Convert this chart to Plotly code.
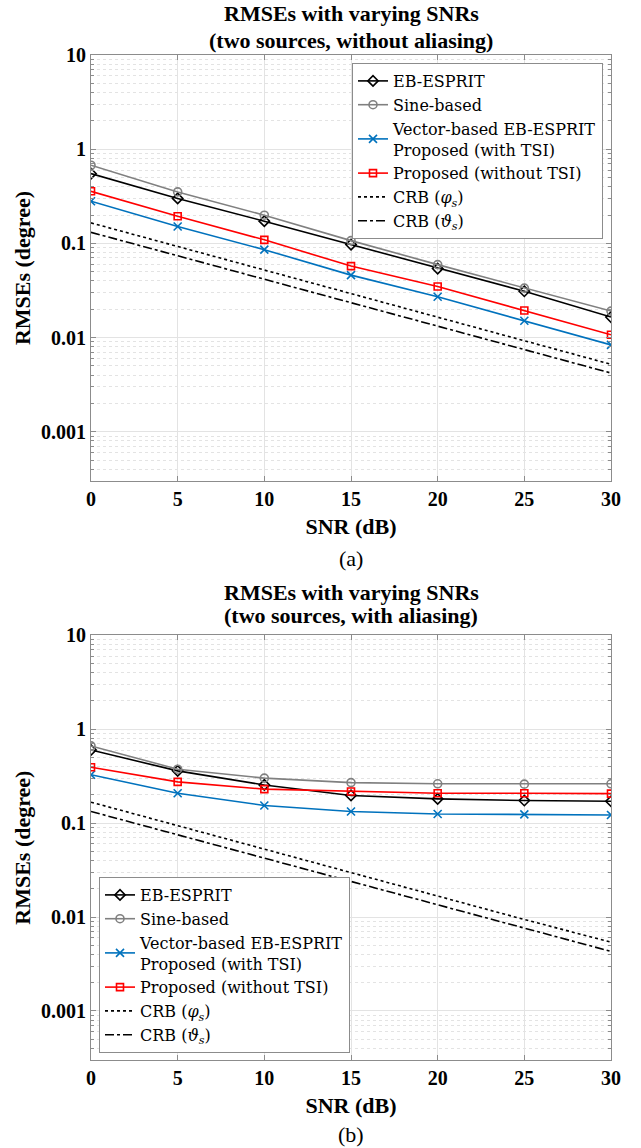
import plotly.graph_objects as go

snr = [0, 5, 10, 15, 20, 25, 30]

# (a) two sources, without aliasing
a_eb = [0.55, 0.30, 0.172, 0.097, 0.054, 0.031, 0.0165]
a_sine = [0.675, 0.352, 0.199, 0.107, 0.0595, 0.0335, 0.0191]
a_vec = [0.28, 0.151, 0.0857, 0.046, 0.0271, 0.0151, 0.00835]
a_prop = [0.357, 0.194, 0.109, 0.0574, 0.0349, 0.0194, 0.0107]
a_crb_phi = [0.165, 0.093, 0.052, 0.0293, 0.0165, 0.0093, 0.0052]
a_crb_theta = [0.131, 0.074, 0.0415, 0.0233, 0.0131, 0.0074, 0.0042]

# (b) two sources, with aliasing
b_eb = [0.60, 0.36, 0.255, 0.197, 0.181, 0.174, 0.171]
b_sine = [0.664, 0.375, 0.301, 0.270, 0.262, 0.260, 0.262]
b_vec = [0.327, 0.208, 0.154, 0.133, 0.125, 0.124, 0.122]
b_prop = [0.394, 0.275, 0.230, 0.217, 0.208, 0.208, 0.206]
b_crb_phi = [0.167, 0.094, 0.053, 0.0297, 0.0167, 0.0094, 0.0054]
b_crb_theta = [0.133, 0.075, 0.042, 0.0237, 0.0133, 0.0075, 0.0043]

names = ["EB-ESPRIT", "Sine-based", "Vector-based EB-ESPRIT<br>Proposed (with TSI)",
         "Proposed (without TSI)", "CRB (<i>φ<sub>s</sub></i>)", "CRB (<i>ϑ<sub>s</sub></i>)"]
y_ticks = [10, 1, 0.1, 0.01, 0.001]
y_ticktext = ["10", "1", "0.1", "0.01", "0.001"]
x_ticks = [0, 5, 10, 15, 20, 25, 30]

SERIF = "Liberation Serif, Times New Roman, serif"
LEGEND_SERIF = "DejaVu Serif, serif"
styles = [
    dict(color="#000000", dash="solid", symbol="diamond-open", size=8, mode="lines+markers"),
    dict(color="#808080", dash="solid", symbol="circle-open", size=8, mode="lines+markers"),
    dict(color="#0072BD", dash="solid", symbol="x-thin-open", size=8, mode="lines+markers"),
    dict(color="#FF0000", dash="solid", symbol="square-open", size=7, mode="lines+markers"),
    dict(color="#000000", dash="dot", symbol=None, size=0, mode="lines"),
    dict(color="#000000", dash="dashdot", symbol=None, size=0, mode="lines"),
]

fig = go.Figure()

panels = [
    ("x", "y", "legend", [a_eb, a_sine, a_vec, a_prop, a_crb_phi, a_crb_theta]),
    ("x2", "y2", "legend2", [b_eb, b_sine, b_vec, b_prop, b_crb_phi, b_crb_theta]),
]
for xa, ya, lg, series in panels:
    for name, vals, st in zip(names, series, styles):
        tr = dict(x=snr, y=vals, name=name, xaxis=xa, yaxis=ya, legend=lg, mode=st["mode"],
                  line=dict(color=st["color"], dash=st["dash"], width=1.6))
        if st["symbol"]:
            tr["marker"] = dict(symbol=st["symbol"], size=st["size"], color=st["color"],
                                line=dict(color=st["color"], width=1.6))
        fig.add_trace(go.Scatter(**tr))

minor_vals = [m * 10 ** e for e in range(-4, 1) for m in range(2, 10) if 3e-4 <= m * 10 ** e <= 10]

tickfont = dict(family=SERIF, size=20, color="#000000", weight="bold")
axis_line = "#8c8c8c"
grid_major = "#e3e3e3"
grid_minor = "#e3e3e3"


def xaxis(domain, anchor):
    return dict(domain=domain, anchor=anchor, range=[0, 30], tickvals=x_ticks,
                ticks="inside", ticklen=5, tickcolor=axis_line, showline=True,
                linecolor=axis_line, linewidth=1, mirror="ticks", showgrid=True,
                gridcolor=grid_major, gridwidth=1, zeroline=False, tickfont=tickfont,
                automargin=False,
                title=dict(text="SNR (dB)", font=dict(family=SERIF, size=22, color="#000000",
                                                      weight="bold"), standoff=9))


def yaxis(domain, anchor):
    return dict(domain=domain, anchor=anchor, type="log", range=[-3.5229, 1],
                tickmode="array", tickvals=y_ticks, ticktext=y_ticktext,
                ticks="inside", ticklen=5, tickcolor=axis_line, showline=True,
                linecolor=axis_line, linewidth=1, mirror="ticks", showgrid=True,
                gridcolor=grid_major, gridwidth=1, zeroline=False, tickfont=tickfont,
                automargin=False,
                minor=dict(tickmode="array", tickvals=minor_vals, ticks="inside", ticklen=3,
                           tickcolor=axis_line, showgrid=True, gridcolor=grid_minor,
                           griddash="dot", gridwidth=1),
                title=dict(text="RMSEs (degree)", font=dict(family=SERIF, size=22,
                                                            color="#000000", weight="bold"),
                           standoff=4))


W, H = 641, 1148
xd = [91 / W, 611 / W]
legend_common = dict(bgcolor="white", bordercolor="#8c8c8c", borderwidth=1,
                     font=dict(family=LEGEND_SERIF, size=16, color="#000000"),
                     tracegroupgap=0, itemwidth=30)
fig.update_layout(
    width=W, height=H, margin=dict(l=0, r=0, t=0, b=0, autoexpand=False),
    paper_bgcolor="white", plot_bgcolor="white",
    xaxis=xaxis(xd, "y"),
    yaxis=yaxis([1 - 481 / H, 1 - 55 / H], "x"),
    xaxis2=xaxis(xd, "y2"),
    yaxis2=yaxis([1 - 1060 / H, 1 - 635.3 / H], "x2"),
    legend=dict(x=603 / W, y=1 - 63 / H, xanchor="right", yanchor="top", **legend_common),
    legend2=dict(x=99 / W, y=1 - 1053 / H, xanchor="left", yanchor="bottom", **legend_common),
    showlegend=True,
)

title_font = dict(family=SERIF, size=22, color="#000000", weight="bold")
cx = (91 + 611) / 2 / W
for text, ypx, font in [
    ("RMSEs with varying SNRs", 13.5, title_font),
    ("(two sources, without aliasing)", 40, title_font),
    ("(a)", 558, dict(family=SERIF, size=22, color="#000000")),
    ("RMSEs with varying SNRs", 592.5, title_font),
    ("(two sources, with aliasing)", 615, title_font),
    ("(b)", 1134, dict(family=SERIF, size=22, color="#000000")),
]:
    fig.add_annotation(text=text, x=cx, y=1 - ypx / H, xref="paper", yref="paper",
                       xanchor="center", yanchor="middle", showarrow=False, font=font)

fig.write_html("out.html")
